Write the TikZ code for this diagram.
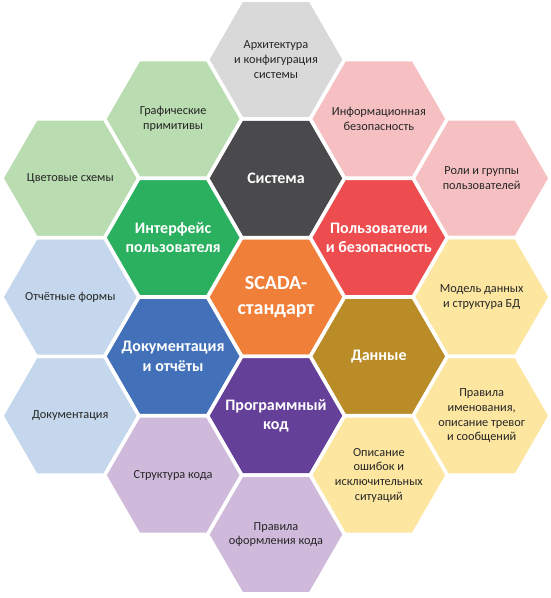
\documentclass[tikz,border=0pt]{standalone}
\usepackage{fontspec}
\setmainfont{Carlito}
\usepackage{tikz}
\usetikzlibrary{shapes.geometric}
\definecolor{scgray}{RGB}{74,74,77}
\definecolor{scred}{RGB}{238,77,80}
\definecolor{scorange}{RGB}{240,127,58}
\definecolor{scochre}{RGB}{186,140,40}
\definecolor{scpurple}{RGB}{101,64,152}
\definecolor{scblue}{RGB}{67,113,185}
\definecolor{scgreen}{RGB}{42,176,94}
\definecolor{scgraylt}{RGB}{217,217,217}
\definecolor{scredlt}{RGB}{246,192,194}
\definecolor{scochrelt}{RGB}{253,230,160}
\definecolor{scpurplelt}{RGB}{208,186,220}
\definecolor{scbluelt}{RGB}{197,215,237}
\definecolor{scgreenlt}{RGB}{185,220,176}

\begin{document}
\begin{tikzpicture}[x=1pt, y=1pt,
        hexcell/.style={regular polygon, regular polygon sides=6, minimum size=137pt, inner sep=0pt, draw=white, line width=3.5pt},
        core/.style={align=center, text=white, font=\fontsize{16}{19.5}\selectfont\bfseries},
        topic/.style={align=center, text=black!85, font=\fontsize{12.3}{14.7}\selectfont}
      ]
      \useasboundingbox (-276,-301) rectangle (274,297);
      % inner ring
      \node[hexcell, fill=scorange] (scada) at (0,0) {};
      \node[core, font=\fontsize{20}{25}\selectfont\bfseries] at (scada) {SCADA-\\стандарт};
      \node[hexcell, fill=scgray] (sys) at (0,118.75) {};
      \node[core] at (sys) {Система};
      \node[hexcell, fill=scred] (users) at (102.85,59.38) {};
      \node[core] at (users) {Пользователи\\и безопасность};
      \node[hexcell, fill=scochre] (data) at (102.85,-59.38) {};
      \node[core] at (data) {Данные};
      \node[hexcell, fill=scpurple] (code) at (0,-118.75) {};
      \node[core] at (code) {Программный\\код};
      \node[hexcell, fill=scblue] (docs) at (-102.85,-59.38) {};
      \node[core] at (docs) {Документация\\и отчёты};
      \node[hexcell, fill=scgreen] (ui) at (-102.85,59.38) {};
      \node[core] at (ui) {Интерфейс\\пользователя};

      % outer ring
      \node[hexcell, fill=scgraylt] (arch) at (0,237.5) {};
      \node[topic] at (arch) {Архитектура\\и конфигурация\\системы};
      \node[hexcell, fill=scredlt] (infosec) at (102.85,178.13) {};
      \node[topic] at (infosec) {Информационная\\безопасность};
      \node[hexcell, fill=scredlt] (roles) at (205.7,118.75) {};
      \node[topic] at (roles) {Роли и группы\\пользователей};
      \node[hexcell, fill=scochrelt] (model) at (205.7,0) {};
      \node[topic] at (model) {Модель данных\\и структура БД};
      \node[hexcell, fill=scochrelt] (naming) at (205.7,-118.75) {};
      \node[topic] at (naming) {Правила\\именования,\\описание тревог\\и сообщений};
      \node[hexcell, fill=scochrelt] (errors) at (102.85,-178.13) {};
      \node[topic] at (errors) {Описание\\ошибок и\\исключительных\\ситуаций};
      \node[hexcell, fill=scpurplelt] (style) at (0,-237.5) {};
      \node[topic] at (style) {Правила\\оформления кода};
      \node[hexcell, fill=scpurplelt] (struct) at (-102.85,-178.13) {};
      \node[topic] at (struct) {Структура кода};
      \node[hexcell, fill=scbluelt] (manual) at (-205.7,-118.75) {};
      \node[topic] at (manual) {Документация};
      \node[hexcell, fill=scbluelt] (forms) at (-205.7,0) {};
      \node[topic] at (forms) {Отчётные формы};
      \node[hexcell, fill=scgreenlt] (palette) at (-205.7,118.75) {};
      \node[topic] at (palette) {Цветовые схемы};
      \node[hexcell, fill=scgreenlt] (prims) at (-102.85,178.13) {};
      \node[topic] at (prims) {Графические\\примитивы};
    \end{tikzpicture}
\end{document}
